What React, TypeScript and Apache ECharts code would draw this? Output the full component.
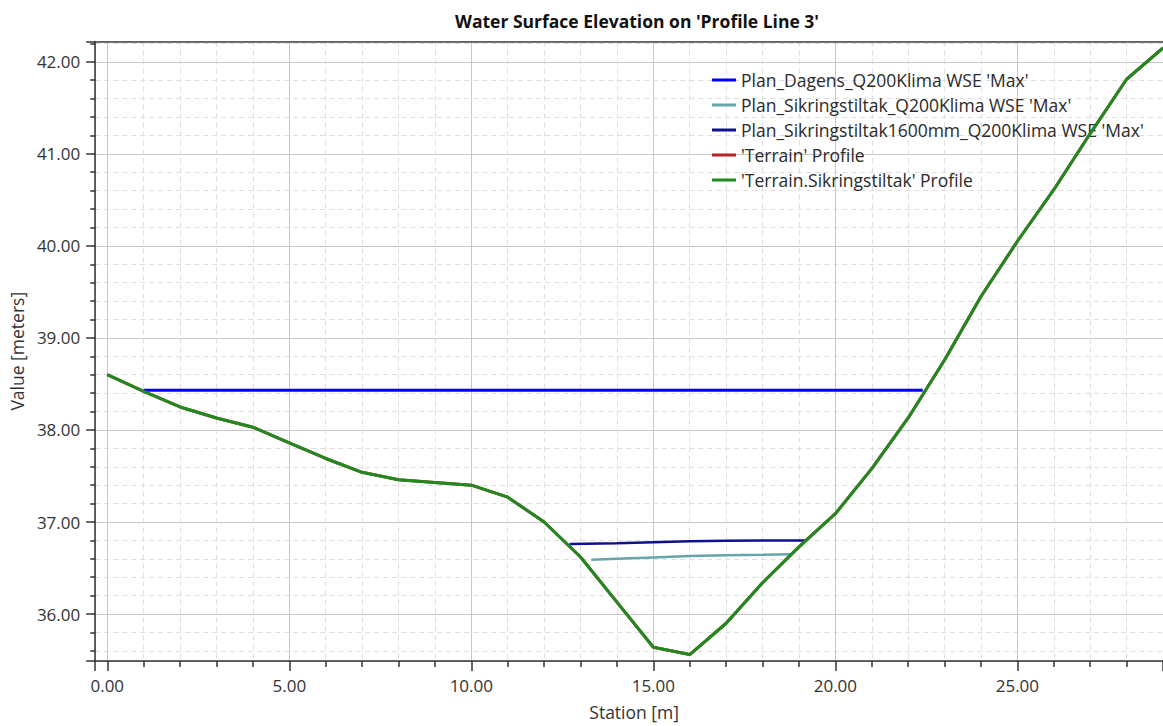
import React, { useEffect, useRef } from "react";
import * as echarts from "echarts";

const FONT = "'Segoe UI', 'Open Sans', sans-serif";

const titleText = "Water Surface Elevation on 'Profile Line 3'";
const xName = "Station [m]";
const yName = "Value [meters]";

const seriesNames = [
  "Plan_Dagens_Q200Klima WSE 'Max'",
  "Plan_Sikringstiltak_Q200Klima WSE 'Max'",
  "Plan_Sikringstiltak1600mm_Q200Klima WSE 'Max'",
  "'Terrain' Profile",
  "'Terrain.Sikringstiltak' Profile",
];
const seriesColors = ["#0000ff", "#66a6a8", "#10108c", "#b22222", "#1f8a1f"];

// Terrain profile
const terrainStation = [0, 1, 2, 3, 4, 5, 6, 7, 8, 9, 10, 11, 12, 13, 14, 15, 16, 17, 18, 19, 20, 21, 22, 23, 24, 25, 26, 27, 28, 29];
const terrainElev = [38.6, 38.42, 38.25, 38.13, 38.03, 37.86, 37.69, 37.54, 37.46, 37.43, 37.4, 37.27, 37.0, 36.62, 36.13, 35.64, 35.56, 35.9, 36.34, 36.73, 37.09, 37.58, 38.13, 38.76, 39.45, 40.05, 40.61, 41.22, 41.81, 42.15];

// WSE lines
const dagensStation = [1.0, 5, 10, 15, 20, 22.4];
const dagensWse = [38.43, 38.43, 38.43, 38.43, 38.43, 38.43];

const sikringStation = [13.3, 14, 15, 16, 17, 18, 18.8];
const sikringWse = [36.59, 36.6, 36.615, 36.63, 36.64, 36.645, 36.65];

const sikring1600Station = [12.7, 14, 15, 16, 17, 18, 19.2];
const sikring1600Wse = [36.76, 36.77, 36.78, 36.79, 36.795, 36.8, 36.8];

const xMin = -0.33;
const xMax = 29.0;
const yMin = 35.49;
const yMax = 42.22;

const zip = (xs: number[], ys: number[]) => xs.map((x, i) => [x, ys[i]]);

export default function App() {
  const ref = useRef<HTMLDivElement>(null);
  useEffect(() => {
    if (!ref.current) return;
    const chart = echarts.init(ref.current, undefined, { renderer: "svg" });
    const datasets = [
      zip(dagensStation, dagensWse),
      zip(sikringStation, sikringWse),
      zip(sikring1600Station, sikring1600Wse),
      zip(terrainStation, terrainElev),
      zip(terrainStation, terrainElev),
    ];
    const widths = [3, 2.5, 2.5, 3, 3];
    const axisLabelStyle = { color: "#333", fontSize: 17, fontFamily: FONT };
    chart.setOption({
      animation: false,
      backgroundColor: "#ffffff",
      title: {
        text: titleText,
        left: 632,
        textAlign: "center",
        top: 7,
        textStyle: { fontFamily: FONT, fontWeight: "bold", fontSize: 17.5, color: "#111" },
      },
      legend: {
        orient: "vertical",
        left: 707,
        top: 65,
        icon: "rect",
        itemWidth: 24,
        itemHeight: 3,
        itemGap: 5,
        textStyle: { fontFamily: FONT, fontSize: 17.5, color: "#2a2a2a", lineHeight: 20 },
        data: seriesNames,
      },
      grid: { left: 91, right: 0, top: 41.5, bottom: 63, containLabel: false },
      xAxis: [
        {
          type: "value",
          min: xMin,
          max: xMax,
          name: xName,
          nameLocation: "middle",
          nameGap: 42,
          nameTextStyle: { fontFamily: FONT, fontSize: 17.5, color: "#333", padding: [0, 0, 0, 10] },
          axisLine: { show: true, onZero: false, lineStyle: { color: "#333", width: 1.5 } },
          axisTick: { show: true, length: 10, lineStyle: { color: "#333", width: 1.5 } },
          minorTick: { show: true, splitNumber: 5, length: 6, lineStyle: { color: "#333", width: 1.5 } },
          axisLabel: {
            ...axisLabelStyle,
            margin: 16,
            showMinLabel: false,
            showMaxLabel: false,
            formatter: (v: number) => v.toFixed(2),
          },
          splitLine: { show: true, lineStyle: { color: "#c8c8c8", width: 1 } },
          minorSplitLine: { show: true, lineStyle: { color: "#dedede", width: 1, type: [5, 4] } },
        },
        {
          type: "value",
          position: "top",
          min: xMin,
          max: xMax,
          axisLine: { show: true, onZero: false, lineStyle: { color: "#444", width: 1.5 } },
          axisTick: { show: false },
          axisLabel: { show: false },
          splitLine: { show: false },
        },
      ],
      yAxis: {
        type: "value",
        min: yMin,
        max: yMax,
        name: yName,
        nameLocation: "middle",
        nameGap: 64,
        nameTextStyle: { fontFamily: FONT, fontSize: 17.5, color: "#333" },
        axisLine: { show: true, onZero: false, lineStyle: { color: "#333", width: 1.5 } },
        axisTick: { show: true, length: 9, lineStyle: { color: "#333", width: 1.5 } },
        minorTick: { show: true, splitNumber: 5, length: 5, lineStyle: { color: "#333", width: 1.5 } },
        axisLabel: {
          ...axisLabelStyle,
          margin: 15,
          showMinLabel: false,
          showMaxLabel: false,
          formatter: (v: number) => v.toFixed(2),
        },
        splitLine: { show: true, lineStyle: { color: "#c8c8c8", width: 1 } },
        minorSplitLine: { show: true, lineStyle: { color: "#dedede", width: 1, type: [5, 4] } },
      },
      series: seriesNames.map((name, i) => ({
        name,
        type: "line",
        xAxisIndex: 0,
        data: datasets[i],
        showSymbol: false,
        symbol: "none",
        lineStyle: { color: seriesColors[i], width: widths[i] },
        itemStyle: { color: seriesColors[i] },
        z: i === 4 ? 5 : 3,
      })),
    });
    return () => chart.dispose();
  }, []);
  return <div ref={ref} style={{ width: 1163, height: 726, position: "absolute", left: 0, top: 0 }} />;
}
